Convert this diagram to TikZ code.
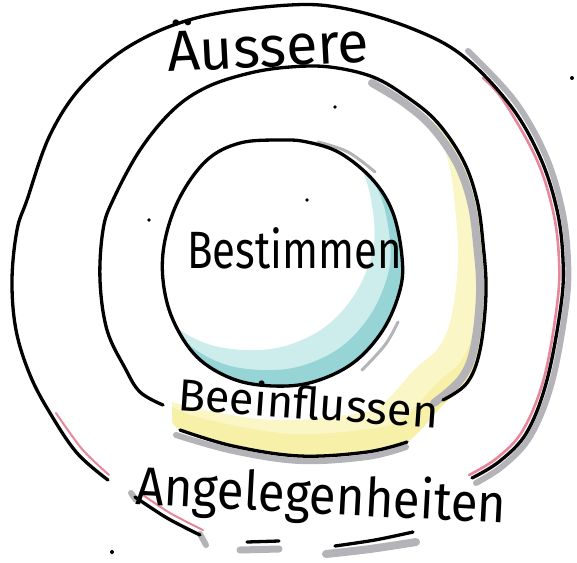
\documentclass[tikz,border=0pt]{standalone}
\usepackage{graphicx}
\usepackage{fontspec}
\setmainfont{Fira Sans}
\definecolor{tealL}{RGB}{205,236,236}
\definecolor{tealD}{RGB}{150,212,214}
\definecolor{yel}{RGB}{250,246,198}
\definecolor{yel2}{RGB}{246,240,168}
\definecolor{pinkc}{RGB}{230,135,155}
\definecolor{grayc}{RGB}{180,180,184}
\newcommand\InnerC[2]{plot[smooth cycle, tension=0.6] coordinates {({280+#1},{140+#2}) ({307+#1},{142+#2}) ({340+#1},{153+#2}) ({373+#1},{180+#2}) ({393+#1},{213+#2}) ({402+#1},{257+#2}) ({400+#1},{290+#2}) ({383+#1},{330+#2}) ({353+#1},{363+#2}) ({313+#1},{382+#2}) ({273+#1},{386+#2}) ({233+#1},{379+#2}) ({197+#1},{357+#2}) ({173+#1},{320+#2}) ({163+#1},{280+#2}) ({165+#1},{240+#2}) ({180+#1},{197+#2}) ({207+#1},{160+#2}) ({240+#1},{143+#2})}}
\newcommand\MidC[2]{plot[smooth cycle, tension=0.6] coordinates {({163+#1},{405+#2}) ({140+#1},{392+#2}) ({125+#1},{368+#2}) ({107+#1},{330+#2}) ({100+#1},{280+#2}) ({103+#1},{230+#2}) ({113+#1},{200+#2}) ({140+#1},{150+#2}) ({173+#1},{110+#2}) ({207+#1},{87+#2}) ({250+#1},{73+#2}) ({290+#1},{67+#2}) ({330+#1},{67+#2}) ({373+#1},{77+#2}) ({407+#1},{97+#2}) ({437+#1},{122+#2}) ({463+#1},{160+#2}) ({477+#1},{200+#2}) ({483+#1},{243+#2}) ({486+#1},{293+#2}) ({480+#1},{350+#2}) ({467+#1},{383+#2}) ({443+#1},{405+#2}) ({407+#1},{442+#2}) ({367+#1},{452+#2}) ({300+#1},{456+#2}) ({233+#1},{446+#2}) ({180+#1},{430+#2})}}
\tikzset{
  ink/.style={line width=3.3pt, line cap=round, line join=round, black},
  shade/.style={line width=7pt, line cap=round, grayc},
  pinkline/.style={line width=2.6pt, line cap=round, pinkc},
  hand/.style={inner sep=0pt, anchor=base west, text=black},
  dot/.style={black}
}
\begin{document}
\begin{tikzpicture}[x=1pt,y=-1pt]
\useasboundingbox (0,0) rectangle (577,562);
% yellow crescent in the middle ring (right and bottom only)
\begin{scope}
  \clip (172,0) rectangle (577,562);
  \clip \MidC{0}{0};
  \fill[yel, even odd rule] \MidC{0}{0} \MidC{-28}{-36};
  \fill[yel2, even odd rule] \MidC{0}{0} \MidC{-6}{-22};
\end{scope}
% teal crescent in the inner circle
\begin{scope}
  \clip \InnerC{0}{0};
  \fill[tealL, even odd rule] \InnerC{0}{0} \InnerC{-28}{-36};
  \fill[tealD, even odd rule] \InnerC{0}{0} \InnerC{-12}{-16};
\end{scope}
% grey shadows
\draw[shade, line width=8pt] plot[smooth, tension=0.6] coordinates {(372,83) (403,102) (432,127) (457,163) (471,202) (477,244) (480,293) (474,348) (461,379) (434,403)};
\draw[shade, line width=6pt] plot[smooth, tension=0.6] coordinates {(176,435) (233,451) (300,461) (367,457) (406,447)};
\draw[shade, line width=6pt] plot[smooth, tension=0.6] coordinates {(468,51) (514,100) (545,154) (562,209) (568,260) (566,306) (552,382) (531,435) (504,465) (476,483)};
\draw[shade, line width=3pt] plot[smooth, tension=0.6] coordinates {(318,142) (348,152) (375,172)};
\draw[shade, line width=3pt] plot[smooth, tension=0.6] coordinates {(398,322) (385,345) (362,370)};
\draw[shade, line width=6pt] (131,493) -- (136,500);
\draw[shade, line width=6pt] (200,534) -- (206,545);
\draw[shade, line width=7pt] (240,550) -- (279,549);
\draw[shade, line width=8pt] plot[smooth] coordinates {(326,554) (370,549) (416,542)};
% pink pencil
\draw[pinkline] plot[smooth, tension=0.6] coordinates {(483,78) (503,100) (536,158) (553,211) (559,260) (557,305) (544,378) (523,430) (497,458) (469,475)};
\draw[pinkline, line width=2pt] plot[smooth] coordinates {(56,413) (82,449) (109,475)};
\draw[pinkline, line width=2pt] plot[smooth] coordinates {(140,493) (170,513) (203,530)};
% outer circle
\draw[ink] plot[smooth, tension=0.6] coordinates {(108,480) (77,453) (50,413) (30,375) (16,330) (12,280) (17,230) (27,200) (50,135) (83,85) (133,44) (200,17) (290,5) (347,9) (413,29) (463,56) (510,105) (540,157) (557,210) (563,260) (561,305) (547,380) (527,432) (500,461) (472,478)};
\draw[ink] plot[smooth] coordinates {(135,497) (167,518) (200,535)};
\draw[ink] (247,542) -- (279,541);
\draw[ink] plot[smooth] coordinates {(335,546) (375,540) (413,532)};
% middle circle
\draw[ink] plot[smooth, tension=0.6] coordinates {(163,405) (140,392) (125,368) (107,330) (100,280) (103,230) (113,200) (140,150) (173,110) (207,87) (250,73) (290,67) (330,67) (373,77) (407,97) (437,122) (463,160) (477,200) (483,243) (486,293) (480,350) (467,383) (443,400)};
\draw[ink] plot[smooth, tension=0.6] coordinates {(180,430) (233,446) (300,456) (367,452) (407,442)};
% inner circle
\draw[ink] \InnerC{0}{0};
% dots
\fill[dot] (572,78) circle[radius=2pt];
\fill[dot] (335,107) circle[radius=1.8pt];
\fill[dot] (307,200) circle[radius=1.8pt];
\fill[dot] (149,220) circle[radius=1.8pt];
\fill[dot] (112,552) circle[radius=2pt];
% labels
\node[hand, rotate=3] (aussere) at (168,72) {\fontsize{52}{52}\selectfont\scalebox{1.1}[1.1]{Äussere}};
\node[hand] (bestimmen) at (187,268) {\fontsize{42}{42}\selectfont\scalebox{1}[1.25]{Bestimmen}};
\node[hand, rotate=-4] (beeinflussen) at (177,410) {\fontsize{45}{45}\selectfont Beeinflussen};
\node[hand, rotate=-3] (angelegenheiten) at (135,504) {\fontsize{49}{49}\selectfont\scalebox{1}[1.1]{Angelegenheiten}};
\end{tikzpicture}
\end{document}
